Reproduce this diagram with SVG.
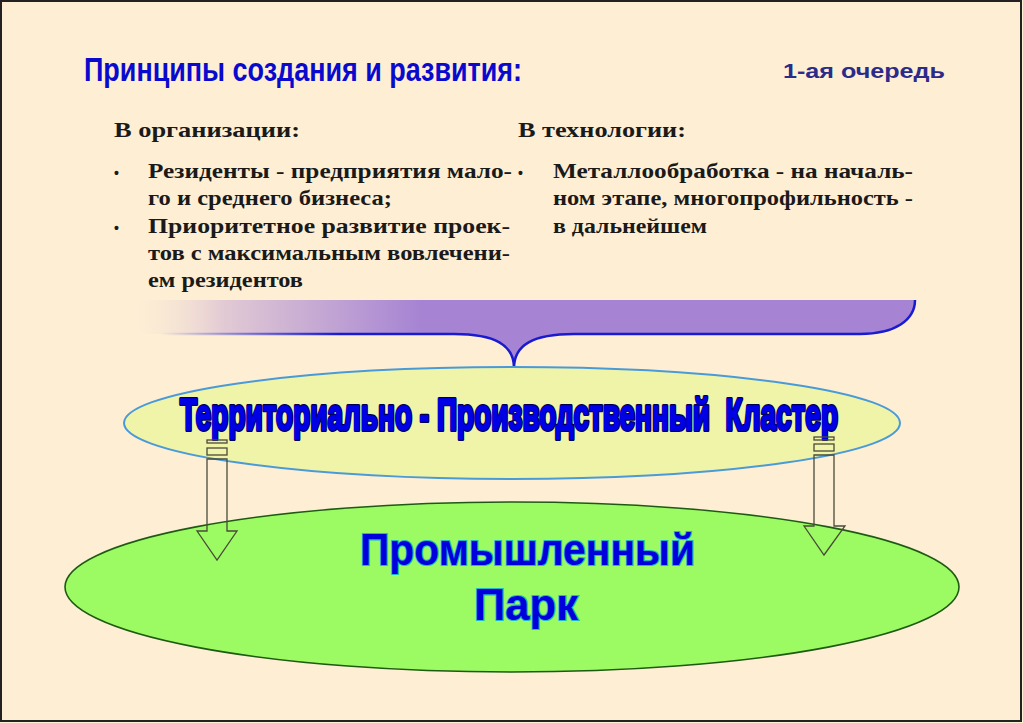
<svg xmlns="http://www.w3.org/2000/svg" width="1023" height="723" viewBox="0 0 1023 723">
<defs>
<style>
.ser{font-family:"Liberation Serif","Times New Roman",serif;font-weight:bold;font-size:22px;fill:#1a1a1a}
.bul{font-family:"Liberation Sans",Arial,sans-serif;font-weight:bold;font-size:14px;fill:#1a1a1a}
.arrow{fill:none;stroke:#4a4a3a;stroke-width:1.3}
.cl{font-family:"Liberation Sans Narrow","Liberation Sans",Arial,sans-serif;font-weight:bold;font-size:45px}
.pk{font-family:"Liberation Sans",Arial,sans-serif;font-weight:bold;font-size:45px;fill:#0000DD;stroke:#22B8C8;stroke-width:2.2;paint-order:stroke}
</style>
<linearGradient id="bandFill" gradientUnits="userSpaceOnUse" x1="118" y1="0" x2="420" y2="0">
<stop offset="0" stop-color="#FEEFD4" stop-opacity="0"/>
<stop offset="0.35" stop-color="#E2CAD4"/>
<stop offset="1" stop-color="#A684D3"/>
</linearGradient>
<linearGradient id="bandStroke" gradientUnits="userSpaceOnUse" x1="160" y1="0" x2="340" y2="0">
<stop offset="0" stop-color="#1a1ad0" stop-opacity="0"/>
<stop offset="1" stop-color="#1a1ad0"/>
</linearGradient>
</defs>
<rect x="0" y="0" width="1023" height="723" fill="#FEEFD4"/>
<rect x="1" y="1" width="1020" height="720" fill="none" stroke="#222" stroke-width="2"/>

<g id="title">
<text x="84" y="81" font-family="'Liberation Sans Narrow','Liberation Sans',Arial,sans-serif" font-weight="bold" font-size="34" fill="#0A0ACF" textLength="438" lengthAdjust="spacingAndGlyphs">Принципы создания и развития:</text>
</g>
<g id="stage">
<text x="783" y="78" font-family="'Liberation Sans',Arial,sans-serif" font-weight="bold" font-size="20" fill="#2B2B8A" textLength="162" lengthAdjust="spacingAndGlyphs">1-ая очередь</text>
</g>

<g id="organization">
<text class="ser" x="114" y="137" textLength="186" lengthAdjust="spacingAndGlyphs">В организации:</text>
<text class="bul" x="114" y="178">•</text>
<text class="ser" x="148" y="178" textLength="364" lengthAdjust="spacingAndGlyphs">Резиденты - предприятия мало-</text>
<text class="ser" x="148" y="205" textLength="244" lengthAdjust="spacingAndGlyphs">го и среднего бизнеса;</text>
<text class="bul" x="114" y="233">•</text>
<text class="ser" x="148" y="233" textLength="362" lengthAdjust="spacingAndGlyphs">Приоритетное развитие проек-</text>
<text class="ser" x="148" y="260" textLength="362" lengthAdjust="spacingAndGlyphs">тов с максимальным вовлечени-</text>
<text class="ser" x="148" y="287" textLength="155" lengthAdjust="spacingAndGlyphs">ем резидентов</text>
</g>

<g id="technology">
<text class="ser" x="518" y="137" textLength="168" lengthAdjust="spacingAndGlyphs">В технологии:</text>
<text class="bul" x="518" y="178">•</text>
<text class="ser" x="553" y="178" textLength="360" lengthAdjust="spacingAndGlyphs">Металлообработка - на началь-</text>
<text class="ser" x="553" y="205" textLength="360" lengthAdjust="spacingAndGlyphs">ном этапе, многопрофильность -</text>
<text class="ser" x="553" y="233" textLength="154" lengthAdjust="spacingAndGlyphs">в дальнейшем</text>
</g>

<g id="brace">
<path d="M150,300 L915,300 C915,320 895,334 860,334 L574,334 C533,334 514,345 514,368 C514,345 495,334 454,334 L150,334 C130,334 120,325 120,317 C120,308 130,300 150,300 Z" fill="url(#bandFill)"/>
<path d="M160,334 L454,334 C495,334 514,345 514,368 C514,345 533,334 574,334 L860,334 C895,334 915,320 915,300" fill="none" stroke="url(#bandStroke)" stroke-width="2.5"/>
</g>

<g id="park">
<ellipse cx="512" cy="587" rx="447" ry="85" fill="#9CFA62" stroke="#1E5A14" stroke-width="1.6"/>
<text class="pk" x="360" y="565" textLength="335" lengthAdjust="spacingAndGlyphs">Промышленный</text>
<text class="pk" x="474" y="620" textLength="104" lengthAdjust="spacingAndGlyphs">Парк</text>
</g>

<g id="cluster">
<ellipse cx="512" cy="423" rx="388" ry="56" fill="#F0F4A8" stroke="#4A9AD8" stroke-width="2"/>
<text class="cl" x="180" y="430" xml:space="preserve" fill="#000050" stroke="#000050" stroke-width="4" stroke-linejoin="round" textLength="658" lengthAdjust="spacingAndGlyphs">Территориально - Производственный  Кластер</text>
<text class="cl" x="180" y="430" xml:space="preserve" fill="#0000E6" stroke="#0000E6" stroke-width="1.6" stroke-linejoin="round" textLength="658" lengthAdjust="spacingAndGlyphs">Территориально - Производственный  Кластер</text>
</g>

<g id="connectors">
<g class="arrow">
<rect x="207" y="440" width="20" height="3"/>
<rect x="207" y="448" width="20" height="7"/>
<path d="M207,459 L227,459 L227,531 L237,531 L217,560 L197,531 L207,531 Z"/>
<rect x="814" y="437" width="20" height="3"/>
<rect x="814" y="444" width="20" height="7"/>
<path d="M814,455 L834,455 L834,526 L845,526 L824,555 L804,526 L814,526 Z"/>
</g>
</g>
</svg>
